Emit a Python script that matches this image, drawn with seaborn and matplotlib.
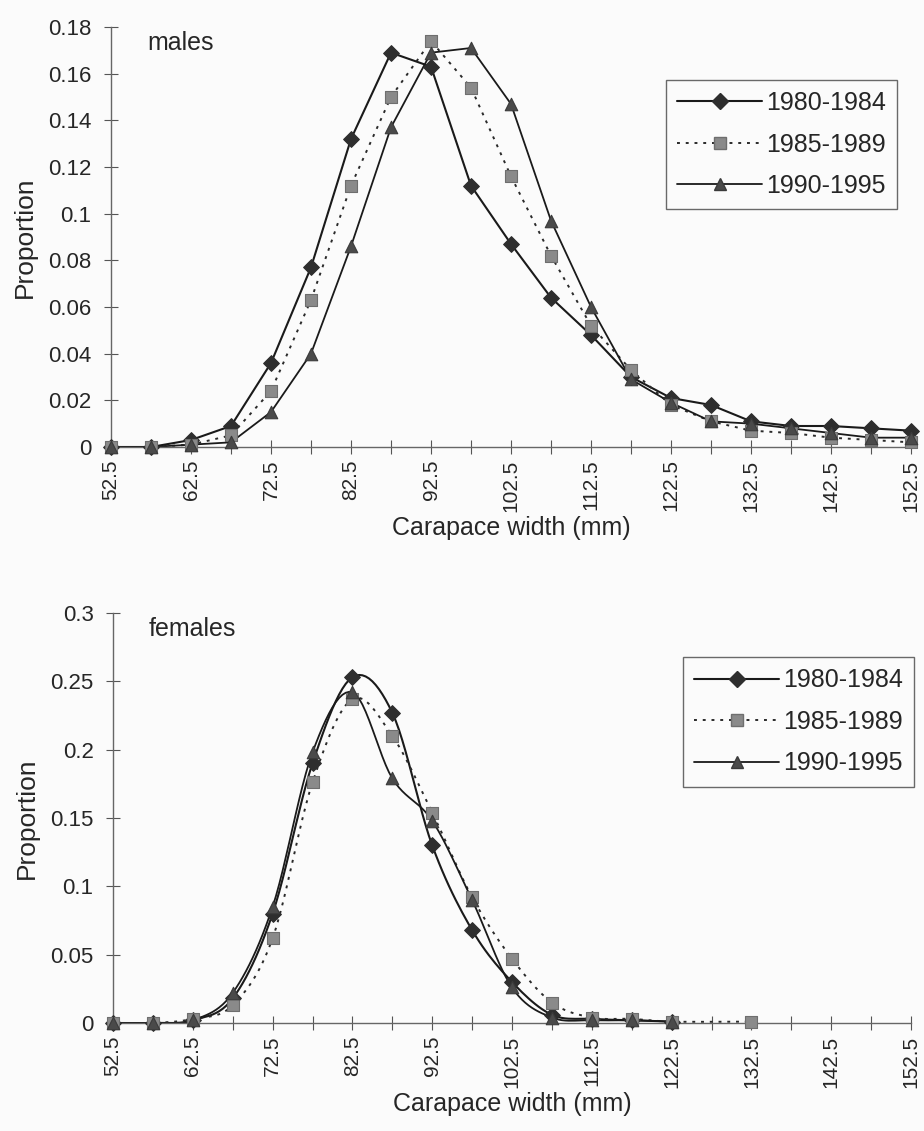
import numpy as np
import pandas as pd
import matplotlib
matplotlib.use("Agg")
import matplotlib.pyplot as plt
from matplotlib.lines import Line2D
import seaborn as sns

# Size classes (mm) and proportions per period
widths = [52.5, 57.5, 62.5, 67.5, 72.5, 77.5, 82.5, 87.5, 92.5, 97.5, 102.5,
          107.5, 112.5, 117.5, 122.5, 127.5, 132.5, 137.5, 142.5, 147.5, 152.5]
periods = ["1980-1984", "1985-1989", "1990-1995"]

males_1980 = [0.0, 0.0, 0.003, 0.009, 0.036, 0.077, 0.132, 0.169, 0.163, 0.112, 0.087,
              0.064, 0.048, 0.030, 0.021, 0.018, 0.011, 0.009, 0.009, 0.008, 0.007]
males_1985 = [0.0, 0.0, 0.001, 0.005, 0.024, 0.063, 0.112, 0.150, 0.174, 0.154, 0.116,
              0.082, 0.052, 0.033, 0.018, 0.011, 0.007, 0.006, 0.004, 0.003, 0.002]
males_1990 = [0.0, 0.0, 0.001, 0.002, 0.015, 0.040, 0.086, 0.137, 0.169, 0.171, 0.147,
              0.097, 0.060, 0.029, 0.019, 0.011, 0.010, 0.008, 0.006, 0.004, 0.004]

fem_widths_a = [52.5, 57.5, 62.5, 67.5, 72.5, 77.5, 82.5, 87.5, 92.5, 97.5, 102.5,
                107.5, 112.5, 117.5, 122.5]
fem_widths_b = fem_widths_a + [132.5]
females_1980 = [0.0, 0.0, 0.002, 0.018, 0.080, 0.190, 0.253, 0.227, 0.130, 0.068, 0.030,
                0.006, 0.003, 0.002, 0.001]
females_1985 = [0.0, 0.0, 0.003, 0.013, 0.062, 0.176, 0.237, 0.210, 0.154, 0.092, 0.047,
                0.015, 0.004, 0.003, 0.001, 0.001]
females_1990 = [0.0, 0.0, 0.002, 0.022, 0.085, 0.198, 0.242, 0.179, 0.148, 0.090, 0.026,
                0.004, 0.002, 0.002, 0.001]

FONT = ["Liberation Sans", "DejaVu Sans"]
sns.set_theme(style="white")
plt.rcParams["font.family"] = FONT
BG = "#fbfbfb"

styles = {
    "1980-1984": dict(marker="D", ms=8, mfc="#2e2e2e", mec="#2e2e2e", ls="-", lw=1.5, color="#1a1a1a"),
    "1985-1989": dict(marker="s", ms=8, mfc="#8a8a8a", mec="#6e6e6e", ls=(0, (1.5, 3)), lw=1.4, color="#2a2a2a"),
    "1990-1995": dict(marker="^", ms=9, mfc="#4a4a4a", mec="#3a3a3a", ls="-", lw=1.3, color="#1a1a1a"),
}


def smooth(x, y, n=12):
    """Catmull-Rom style smoothing of a polyline for display."""
    x = np.asarray(x, float)
    y = np.asarray(y, float)
    xs, ys = [], []
    for i in range(len(x) - 1):
        p0 = (x[i - 1], y[i - 1]) if i > 0 else (x[i], y[i])
        p1 = (x[i], y[i])
        p2 = (x[i + 1], y[i + 1])
        p3 = (x[i + 2], y[i + 2]) if i + 2 < len(x) else (x[i + 1], y[i + 1])
        t = np.linspace(0, 1, n, endpoint=False)
        for k in range(2):
            a0, a1, a2, a3 = p0[k], p1[k], p2[k], p3[k]
            v = 0.5 * ((2 * a1) + (-a0 + a2) * t + (2 * a0 - 5 * a1 + 4 * a2 - a3) * t ** 2
                       + (-a0 + 3 * a1 - 3 * a2 + a3) * t ** 3)
            (xs if k == 0 else ys).append(v)
    xs.append(np.array([x[-1]]))
    ys.append(np.array([y[-1]]))
    return np.concatenate(xs), np.concatenate(ys)


def draw_panel(ax, series, ymax, ystep, title, smooth_lines, leg_top, leg_right):
    ax.set_facecolor(BG)
    for name, (xv, yv) in series.items():
        st = styles[name]
        if smooth_lines:
            sx, sy = smooth(xv, yv)
            line_df = pd.DataFrame({"x": sx, "y": sy})
        else:
            line_df = pd.DataFrame({"x": xv, "y": yv})
        sns.lineplot(data=line_df, x="x", y="y", ax=ax, color=st["color"],
                     linewidth=st["lw"], linestyle=st["ls"], sort=False,
                     estimator=None, legend=False)
        pts = pd.DataFrame({"x": xv, "y": yv})
        sns.scatterplot(data=pts, x="x", y="y", ax=ax, marker=st["marker"],
                        s=st["ms"] ** 2, color=st["mfc"], edgecolor=st["mec"],
                        linewidth=0.8, zorder=5, legend=False, clip_on=False)
    ax.set_xlim(52.5, 152.5)
    ax.set_ylim(0, ymax)
    ax.set_xticks(np.arange(52.5, 152.6, 10))
    ax.set_xticklabels([f"{v:g}" for v in np.arange(52.5, 152.6, 10)], rotation=90,
                       fontsize=15)
    ax.set_xticks(np.arange(57.5, 152.5, 10), minor=True)
    yt = np.round(np.arange(0, ymax + 1e-9, ystep), 3)
    ax.set_yticks(yt)
    ax.set_yticklabels([f"{v:g}" for v in yt], fontsize=16)
    ax.tick_params(axis="both", which="both", direction="inout", length=10, width=0.8,
                   color="#555555", left=True, bottom=True)
    ax.tick_params(axis="y", pad=9)
    ax.tick_params(axis="x", pad=4)
    for s in ["top", "right"]:
        ax.spines[s].set_visible(False)
    for s in ["left", "bottom"]:
        ax.spines[s].set_color("#666666")
        ax.spines[s].set_linewidth(1.0)
    ax.set_xlabel("Carapace width (mm)", fontsize=18, labelpad=3)
    ax.set_ylabel("Proportion", fontsize=19, labelpad=8)
    ax.text(0.045, 0.99, title, transform=ax.transAxes, fontsize=18, va="top", ha="left")

    handles = []
    for name in periods:
        st = styles[name]
        handles.append(Line2D([0], [0], color=st["color"], lw=st["lw"], ls=st["ls"],
                              marker=st["marker"], ms=st["ms"], mfc=st["mfc"], mec=st["mec"]))
    leg = ax.legend(handles, periods, loc="upper right", bbox_to_anchor=(leg_right, leg_top),
                    fontsize=18, frameon=True, fancybox=False, handlelength=3.4,
                    handletextpad=0.15, borderpad=0.45, labelspacing=0.7, numpoints=1,
                    borderaxespad=0.0)
    leg.get_frame().set_edgecolor("#444444")
    leg.get_frame().set_linewidth(1.0)
    leg.get_frame().set_facecolor(BG)


RIGHT = 911
fig = plt.figure(figsize=(9.24, 11.31), dpi=100, facecolor=BG)
ax1 = fig.add_axes([111 / 924, 1 - 447 / 1131, (RIGHT - 111) / 924, (447 - 27) / 1131])
ax2 = fig.add_axes([113 / 924, 1 - 1023 / 1131, (RIGHT - 113) / 924, (1023 - 613) / 1131])

draw_panel(ax1, {"1980-1984": (widths, males_1980),
                 "1985-1989": (widths, males_1985),
                 "1990-1995": (widths, males_1990)}, 0.18, 0.02, "males", False,
           (447 - 80) / 420, (897 - 111) / (RIGHT - 111))
draw_panel(ax2, {"1980-1984": (fem_widths_a, females_1980),
                 "1985-1989": (fem_widths_b, females_1985),
                 "1990-1995": (fem_widths_a, females_1990)}, 0.3, 0.05, "females", True,
           (1023 - 657) / 410, (914 - 113) / (RIGHT - 113))

fig.savefig("out.png", dpi=100, facecolor=BG)
